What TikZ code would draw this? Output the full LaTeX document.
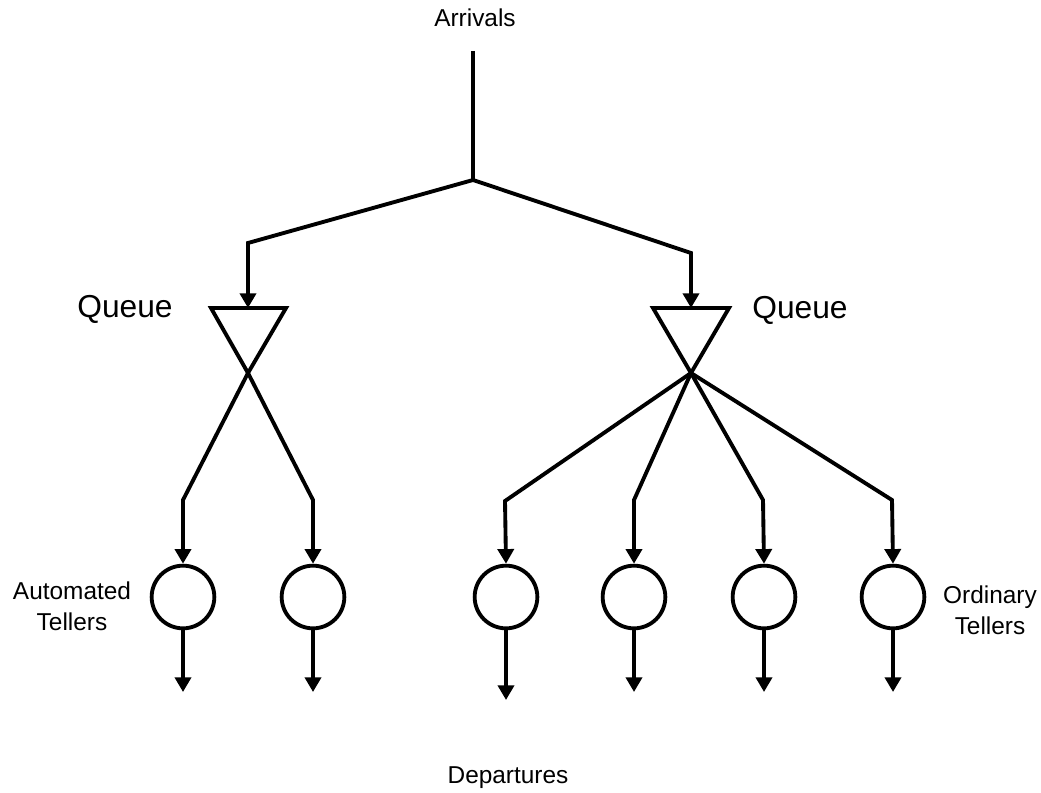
\documentclass[tikz,border=0pt]{standalone}
\usepackage{fontspec}
\setmainfont{Liberation Sans}
\usetikzlibrary{arrows.meta, positioning}

\begin{document}
\begin{tikzpicture}[
    x=0.75pt, y=-0.75pt,
    line/.style={draw, line width=2.9pt},
    flow/.style={line, -{Triangle[length=11pt, width=12pt]}},
    queue/.style={line, line join=miter},
    teller/.style={circle, draw, line width=2.9pt, minimum size=47pt, inner sep=0pt},
    txt/.style={inner sep=0pt, align=center, font=\fontsize{18.3pt}{23pt}\selectfont},
    qtxt/.style={inner sep=0pt, anchor=base, font=\fontsize{23.8pt}{28pt}\selectfont}
]
    \useasboundingbox (0,0) rectangle (1041,792);

    % Texts
    \node[txt, anchor=base] (arr) at (475,27) {Arrivals};
    \node[txt, anchor=base] (dep) at (508,783) {Departures};
    \node[qtxt] (ql) at (125,317) {Queue};
    \node[qtxt] (qr) at (800,318) {Queue};
    \node[txt] (at) at (72,606) {Automated\\Tellers};
    \node[txt] (ot) at (990,610) {Ordinary\\Tellers};

    % Split point
    \coordinate (in) at (473,51);
    \coordinate (J) at (473,180);
    \coordinate (BL) at (248,243);
    \coordinate (BR) at (691,253);

    % Queues (apex and top edge)
    \coordinate (QL) at (248,373);
    \coordinate (QLa) at (211,308);
    \coordinate (QLb) at (286,308);
    \coordinate (QLt) at (248,308);
    \coordinate (QR) at (691,373);
    \coordinate (QRa) at (653,308);
    \coordinate (QRb) at (729,308);
    \coordinate (QRt) at (691,308);

    % Tellers
    \node[teller] (T1) at (183,597) {};
    \node[teller] (T2) at (313,597) {};
    \node[teller] (T3) at (506,597) {};
    \node[teller] (T4) at (634,597) {};
    \node[teller] (T5) at (764,597) {};
    \node[teller] (T6) at (893,597) {};

    % Bends above the tellers
    \coordinate (b1) at (183,500);
    \coordinate (b2) at (313,500);
    \coordinate (b3) at (505,501);
    \coordinate (b4) at (634,500);
    \coordinate (b5) at (763,500);
    \coordinate (b6) at (892,500);

    % Exits
    \coordinate (d1) at (183,692);
    \coordinate (d2) at (313,692);
    \coordinate (d3) at (506,700);
    \coordinate (d4) at (634,692);
    \coordinate (d5) at (764,692);
    \coordinate (d6) at (893,692);

    % Edges
    \draw[line] (in) -- (J);
    \draw[flow] (J) -- (BL) -- (QLt);
    \draw[flow] (J) -- (BR) -- (QRt);

    \draw[queue] (QLa) -- (QLb) -- (QL) -- cycle;
    \draw[queue] (QRa) -- (QRb) -- (QR) -- cycle;

    \draw[flow] (QL) -- (b1) -- (T1.north);
    \draw[flow] (QL) -- (b2) -- (T2.north);
    \draw[flow] (QR) -- (b3) -- (T3.north);
    \draw[flow] (QR) -- (b4) -- (T4.north);
    \draw[flow] (QR) -- (b5) -- (T5.north);
    \draw[flow] (QR) -- (b6) -- (T6.north);

    \draw[flow] (T1.south) -- (d1);
    \draw[flow] (T2.south) -- (d2);
    \draw[flow] (T3.south) -- (d3);
    \draw[flow] (T4.south) -- (d4);
    \draw[flow] (T5.south) -- (d5);
    \draw[flow] (T6.south) -- (d6);
\end{tikzpicture}
\end{document}
